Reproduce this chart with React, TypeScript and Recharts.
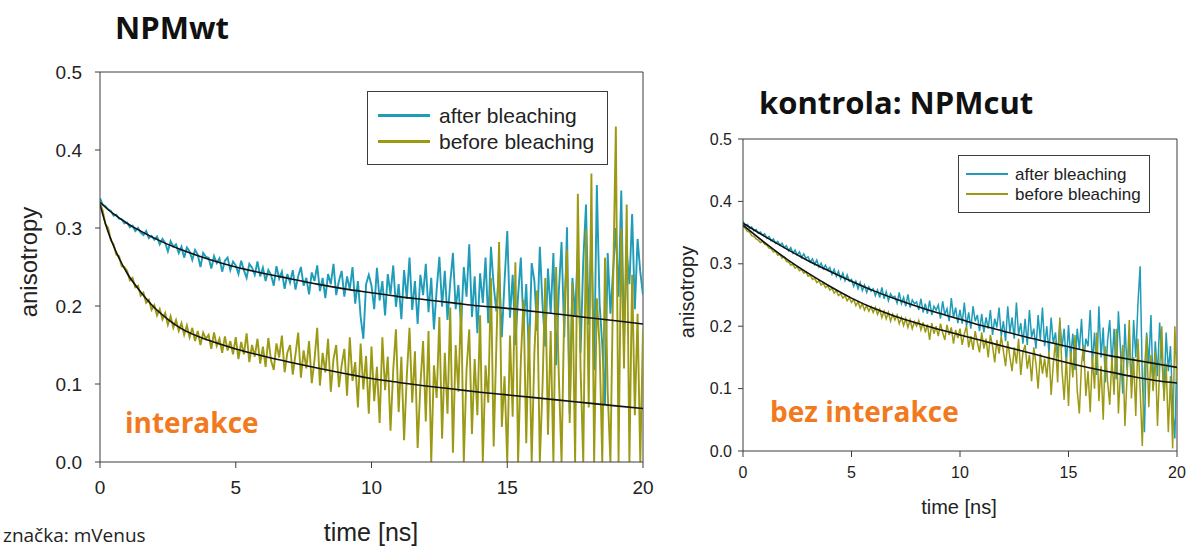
import React from "react";
import { LineChart, Line, XAxis, YAxis, ReferenceLine } from "recharts";

// time sampling of the measured traces (ns)
const STEP = 0.1;
const X_TICKS = [0, 5, 10, 15, 20];
const Y_TICKS = [0, 0.1, 0.2, 0.3, 0.4, 0.5];

// NPMwt – after bleaching (teal)
const L_AFTER = [
  0.338, 0.330, 0.328, 0.324, 0.322, 0.316, 0.317, 0.312, 0.311, 0.306,
  0.307, 0.301, 0.303, 0.296, 0.300, 0.294, 0.291, 0.296, 0.287, 0.290,
  0.285, 0.289, 0.279, 0.286, 0.281, 0.270, 0.283, 0.276, 0.279, 0.268,
  0.276, 0.262, 0.275, 0.270, 0.259, 0.272, 0.266, 0.250, 0.268, 0.263,
  0.262, 0.248, 0.264, 0.255, 0.261, 0.244, 0.258, 0.262, 0.246, 0.257,
  0.252, 0.241, 0.258, 0.246, 0.236, 0.254, 0.249, 0.240, 0.257, 0.238,
  0.249, 0.232, 0.246, 0.240, 0.226, 0.251, 0.235, 0.244, 0.222, 0.241,
  0.230, 0.246, 0.221, 0.238, 0.250, 0.226, 0.236, 0.215, 0.243, 0.232,
  0.252, 0.219, 0.236, 0.210, 0.241, 0.228, 0.254, 0.214, 0.232, 0.245,
  0.212, 0.238, 0.221, 0.250, 0.203, 0.232, 0.186, 0.158, 0.228, 0.240,
  0.226, 0.196, 0.249, 0.207, 0.232, 0.188, 0.241, 0.215, 0.252, 0.199,
  0.228, 0.183, 0.246, 0.209, 0.262, 0.195, 0.232, 0.177, 0.240, 0.214,
  0.254, 0.192, 0.236, 0.170, 0.221, 0.263, 0.199, 0.245, 0.182, 0.230,
  0.268, 0.196, 0.227, 0.174, 0.250, 0.212, 0.279, 0.186, 0.238, 0.165,
  0.242, 0.204, 0.262, 0.178, 0.276, 0.226, 0.193, 0.250, 0.160, 0.231,
  0.296, 0.185, 0.240, 0.150, 0.214, 0.262, 0.172, 0.228, 0.134, 0.255,
  0.232, 0.168, 0.276, 0.201, 0.148, 0.248, 0.190, 0.268, 0.124, 0.219,
  0.282, 0.160, 0.301, 0.062, 0.236, 0.188, 0.274, 0.140, 0.258, 0.330,
  0.176, 0.292, 0.118, 0.355, 0.204, 0.150, 0.074, 0.268, 0.190, 0.246,
  0.300, 0.212, 0.348, 0.156, 0.270, 0.228, 0.318, 0.196, 0.286, 0.244,
  0.214,
];

// NPMwt – before bleaching (olive)
const L_BEFORE = [
  0.332, 0.322, 0.305, 0.300, 0.284, 0.279, 0.266, 0.264, 0.251, 0.250,
  0.245, 0.233, 0.236, 0.224, 0.226, 0.213, 0.217, 0.204, 0.208, 0.195,
  0.201, 0.188, 0.196, 0.183, 0.191, 0.176, 0.187, 0.172, 0.182, 0.168,
  0.178, 0.163, 0.175, 0.160, 0.172, 0.155, 0.168, 0.150, 0.166, 0.158,
  0.163, 0.145, 0.166, 0.149, 0.158, 0.140, 0.161, 0.143, 0.155, 0.138,
  0.160, 0.132, 0.154, 0.138, 0.165, 0.128, 0.150, 0.135, 0.158, 0.126,
  0.148, 0.122, 0.159, 0.130, 0.118, 0.152, 0.134, 0.162, 0.115, 0.140,
  0.150, 0.112, 0.138, 0.166, 0.108, 0.143, 0.120, 0.155, 0.101, 0.131,
  0.172, 0.098, 0.140, 0.115, 0.158, 0.090, 0.132, 0.150, 0.096, 0.124,
  0.145, 0.085, 0.160, 0.104, 0.128, 0.070, 0.152, 0.093, 0.136, 0.062,
  0.148, 0.078, 0.122, 0.050, 0.160, 0.092, 0.135, 0.040, 0.118, 0.170,
  0.064, 0.135, 0.028, 0.110, 0.172, 0.076, 0.142, 0.018, 0.098, 0.155,
  0.052, 0.168, 0.000, 0.124, 0.082, 0.186, 0.030, 0.140, 0.062, 0.198,
  0.012, 0.150, 0.090, 0.205, 0.000, 0.118, 0.170, 0.036, 0.132, 0.060,
  0.188, 0.000, 0.124, 0.076, 0.236, 0.020, 0.150, 0.282, 0.045, 0.110,
  0.000, 0.162, 0.058, 0.256, 0.000, 0.130, 0.208, 0.024, 0.176, 0.000,
  0.140, 0.220, 0.000, 0.098, 0.236, 0.035, 0.168, 0.000, 0.250, 0.110,
  0.000, 0.196, 0.272, 0.050, 0.230, 0.000, 0.344, 0.120, 0.000, 0.298,
  0.070, 0.370, 0.000, 0.210, 0.150, 0.000, 0.262, 0.090, 0.000, 0.230,
  0.430, 0.000, 0.300, 0.120, 0.330, 0.000, 0.240, 0.060, 0.190, 0.000,
  0.170,
];

// NPMwt fits
const L_FIT_T = [0, 0.25, 0.5, 0.75, 1, 1.5, 2, 2.5, 3, 4, 5, 6, 7, 8, 9, 10, 11, 12, 13, 14, 15, 16, 17, 18, 19, 20];
const L_FIT_AFTER = [0.333, 0.325, 0.318, 0.312, 0.306, 0.296, 0.287, 0.279, 0.272, 0.26, 0.25, 0.242, 0.235, 0.228, 0.222, 0.217, 0.212, 0.208, 0.204, 0.2, 0.197, 0.193, 0.189, 0.185, 0.181, 0.177];
const L_FIT_BEFORE = [0.33, 0.3, 0.277, 0.258, 0.242, 0.218, 0.198, 0.183, 0.171, 0.156, 0.145, 0.136, 0.128, 0.1205, 0.1135, 0.107, 0.102, 0.0975, 0.0935, 0.0895, 0.086, 0.0825, 0.079, 0.0755, 0.072, 0.0685];

// kontrola NPMcut – after bleaching (teal)
const R_AFTER = [
  0.368, 0.362, 0.363, 0.357, 0.359, 0.353, 0.355, 0.349, 0.351, 0.346,
  0.348, 0.341, 0.344, 0.337, 0.340, 0.333, 0.336, 0.330, 0.333, 0.326,
  0.329, 0.321, 0.326, 0.317, 0.322, 0.314, 0.319, 0.310, 0.316, 0.309,
  0.311, 0.303, 0.308, 0.299, 0.306, 0.295, 0.301, 0.292, 0.298, 0.290,
  0.294, 0.283, 0.291, 0.280, 0.288, 0.276, 0.285, 0.273, 0.282, 0.272,
  0.275, 0.264, 0.272, 0.260, 0.270, 0.257, 0.266, 0.254, 0.263, 0.256,
  0.260, 0.249, 0.258, 0.246, 0.262, 0.244, 0.255, 0.241, 0.252, 0.246,
  0.248, 0.237, 0.254, 0.236, 0.246, 0.232, 0.251, 0.230, 0.242, 0.236,
  0.239, 0.226, 0.244, 0.222, 0.236, 0.220, 0.241, 0.218, 0.232, 0.226,
  0.234, 0.212, 0.240, 0.218, 0.228, 0.208, 0.245, 0.214, 0.230, 0.205,
  0.226, 0.204, 0.238, 0.200, 0.222, 0.196, 0.232, 0.208, 0.218, 0.192,
  0.220, 0.190, 0.214, 0.196, 0.226, 0.186, 0.212, 0.198, 0.230, 0.184,
  0.208, 0.176, 0.232, 0.190, 0.214, 0.180, 0.238, 0.186, 0.205, 0.172,
  0.212, 0.170, 0.226, 0.182, 0.196, 0.164, 0.218, 0.178, 0.230, 0.168,
  0.200, 0.158, 0.214, 0.172, 0.190, 0.150, 0.208, 0.166, 0.196, 0.140,
  0.202, 0.150, 0.188, 0.130, 0.196, 0.162, 0.212, 0.144, 0.180, 0.168,
  0.226, 0.140, 0.190, 0.122, 0.232, 0.150, 0.198, 0.110, 0.176, 0.210,
  0.138, 0.196, 0.115, 0.224, 0.160, 0.092, 0.204, 0.130, 0.182, 0.104,
  0.210, 0.150, 0.236, 0.296, 0.120, 0.030, 0.190, 0.140, 0.218, 0.098,
  0.176, 0.120, 0.206, 0.150, 0.090, 0.190, 0.128, 0.168, 0.070, 0.020,
  0.160,
];

// kontrola NPMcut – before bleaching (olive)
const R_BEFORE = [
  0.360, 0.357, 0.352, 0.351, 0.345, 0.344, 0.340, 0.338, 0.334, 0.336,
  0.331, 0.330, 0.325, 0.324, 0.319, 0.320, 0.314, 0.315, 0.309, 0.311,
  0.304, 0.303, 0.298, 0.299, 0.293, 0.295, 0.289, 0.291, 0.285, 0.287,
  0.280, 0.282, 0.275, 0.277, 0.270, 0.273, 0.266, 0.269, 0.262, 0.265,
  0.258, 0.261, 0.253, 0.257, 0.249, 0.252, 0.245, 0.249, 0.241, 0.246,
  0.238, 0.243, 0.233, 0.239, 0.229, 0.236, 0.226, 0.233, 0.224, 0.231,
  0.222, 0.230, 0.219, 0.227, 0.214, 0.224, 0.212, 0.222, 0.208, 0.219,
  0.210, 0.218, 0.204, 0.214, 0.201, 0.212, 0.198, 0.210, 0.196, 0.207,
  0.200, 0.209, 0.194, 0.206, 0.190, 0.203, 0.178, 0.205, 0.188, 0.200,
  0.184, 0.204, 0.190, 0.178, 0.202, 0.186, 0.198, 0.172, 0.194, 0.181,
  0.196, 0.170, 0.188, 0.200, 0.166, 0.184, 0.162, 0.192, 0.174, 0.158,
  0.190, 0.164, 0.180, 0.150, 0.186, 0.168, 0.142, 0.178, 0.156, 0.184,
  0.160, 0.136, 0.176, 0.150, 0.128, 0.166, 0.140, 0.180, 0.122, 0.158,
  0.170, 0.132, 0.154, 0.112, 0.166, 0.140, 0.100, 0.156, 0.124, 0.148,
  0.118, 0.160, 0.090, 0.140, 0.176, 0.110, 0.214, 0.130, 0.082, 0.150,
  0.072, 0.160, 0.118, 0.186, 0.098, 0.060, 0.140, 0.170, 0.088, 0.128,
  0.062, 0.152, 0.100, 0.190, 0.080, 0.136, 0.050, 0.168, 0.112, 0.074,
  0.150, 0.090, 0.196, 0.060, 0.130, 0.170, 0.040, 0.120, 0.210, 0.084,
  0.150, 0.056, 0.180, 0.100, 0.008, 0.130, 0.186, 0.070, 0.154, 0.096,
  0.160, 0.040, 0.132, 0.200, 0.080, 0.140, 0.030, 0.120, 0.004, 0.200,
  0.110,
];

// kontrola NPMcut fits
const R_FIT_T = [0, 1, 2, 3, 4, 5, 6, 7, 8, 9, 10, 11, 12, 13, 14, 15, 16, 17, 18, 19, 20];
const R_FIT_AFTER = [0.365, 0.344, 0.324, 0.305, 0.288, 0.272, 0.257, 0.244, 0.232, 0.221, 0.211, 0.201, 0.192, 0.183, 0.175, 0.167, 0.159, 0.152, 0.146, 0.14, 0.134];
const R_FIT_BEFORE = [0.362, 0.334, 0.308, 0.285, 0.264, 0.245, 0.229, 0.216, 0.205, 0.195, 0.186, 0.177, 0.168, 0.159, 0.15, 0.141, 0.133, 0.126, 0.119, 0.113, 0.109];

const TEAL = "#1f9cb8";
const OLIVE = "#9c9a14";
const ORANGE = "#f27a1e";
const AXIS = "#3c3c3c";
const ARIAL = "'Liberation Sans', Arial, sans-serif";
const OPEN = "'Open Sans', sans-serif";

const traceRows = (after: number[], before: number[]) =>
  after.map((v, i) => ({ t: Math.round(i * STEP * 10) / 10, after: v, before: before[i] }));

const fitRows = (ts: number[], vals: number[]) => ts.map((t, i) => ({ t, v: vals[i] }));

interface PanelProps {
  width: number;
  height: number;
  margin: { top: number; right: number; bottom: number; left: number };
  yWidth: number;
  fontSize: number;
  yTickMargin: number;
  xTickMargin: number;
  after: number[];
  before: number[];
  fitT: number[];
  fitAfter: number[];
  fitBefore: number[];
  traceWidth: number;
}

function Panel(p: PanelProps) {
  const tick = { fontSize: p.fontSize, fill: "#222", fontFamily: ARIAL };
  return (
    <LineChart width={p.width} height={p.height} margin={p.margin} data={traceRows(p.after, p.before)}>
      <XAxis
        dataKey="t"
        type="number"
        domain={[0, 20]}
        ticks={X_TICKS}
        allowDataOverflow
        height={30}
        tick={tick}
        tickSize={6}
        tickMargin={p.xTickMargin}
        stroke={AXIS}
      />
      <YAxis
        type="number"
        domain={[0, 0.5]}
        ticks={Y_TICKS}
        allowDataOverflow
        width={p.yWidth}
        tick={tick}
        tickSize={5}
        tickMargin={p.yTickMargin}
        tickFormatter={(v: number) => v.toFixed(1)}
        stroke={AXIS}
      />
      <ReferenceLine y={0.5} stroke={AXIS} />
      <ReferenceLine x={20} stroke={AXIS} />
      <Line dataKey="after" stroke={TEAL} strokeWidth={p.traceWidth} dot={false} isAnimationActive={false} />
      <Line dataKey="before" stroke={OLIVE} strokeWidth={p.traceWidth} dot={false} isAnimationActive={false} />
      <Line
        data={fitRows(p.fitT, p.fitAfter)}
        dataKey="v"
        type="monotone"
        stroke="#111"
        strokeWidth={1.6}
        dot={false}
        isAnimationActive={false}
      />
      <Line
        data={fitRows(p.fitT, p.fitBefore)}
        dataKey="v"
        type="monotone"
        stroke="#111"
        strokeWidth={1.6}
        dot={false}
        isAnimationActive={false}
      />
    </LineChart>
  );
}

function Txt(props: {
  x: number;
  y: number;
  size: number;
  children: React.ReactNode;
  family?: string;
  weight?: number;
  color?: string;
  center?: boolean;
  rotate?: boolean;
}) {
  const tr = props.rotate
    ? "translate(-50%,-50%) rotate(-90deg)"
    : props.center
    ? "translate(-50%,-50%)"
    : "translateY(-50%)";
  return (
    <div
      style={{
        position: "absolute",
        left: props.x,
        top: props.y,
        fontSize: props.size,
        lineHeight: 1,
        fontFamily: props.family || ARIAL,
        fontWeight: props.weight || 400,
        color: props.color || "#222",
        whiteSpace: "nowrap",
        transform: tr,
      }}
    >
      {props.children}
    </div>
  );
}

function LegendBox(props: {
  x: number;
  y: number;
  w: number;
  h: number;
  rows: number[];
  lineX: number;
  lineW: number;
  textX: number;
  size: number;
  thick: number;
}) {
  const labels = ["after bleaching", "before bleaching"];
  const colors = [TEAL, OLIVE];
  return (
    <>
      <div
        style={{
          position: "absolute",
          left: props.x,
          top: props.y,
          width: props.w,
          height: props.h,
          border: `1.5px solid ${AXIS}`,
          boxSizing: "border-box",
          background: "#fff",
        }}
      />
      {labels.map((l, i) => (
        <React.Fragment key={l}>
          <div
            style={{
              position: "absolute",
              left: props.lineX,
              top: props.rows[i] - props.thick / 2,
              width: props.lineW,
              height: props.thick,
              background: colors[i],
            }}
          />
          <Txt x={props.textX} y={props.rows[i]} size={props.size}>
            {l}
          </Txt>
        </React.Fragment>
      ))}
    </>
  );
}

export default function App() {
  return (
    <div
      style={{
        position: "absolute",
        left: 0,
        top: 0,
        width: 1193,
        height: 549,
        background: "#fff",
        overflow: "hidden",
      }}
    >
      <div style={{ position: "absolute", left: 0, top: 0 }}>
        <Panel
          width={660}
          height={549}
          margin={{ top: 72, right: 17, bottom: 57, left: 40 }}
          yWidth={60}
          fontSize={19}
          yTickMargin={13}
          xTickMargin={13}
          after={L_AFTER}
          before={L_BEFORE}
          fitT={L_FIT_T}
          fitAfter={L_FIT_AFTER}
          fitBefore={L_FIT_BEFORE}
          traceWidth={1.9}
        />
      </div>
      <div style={{ position: "absolute", left: 680, top: 0 }}>
        <Panel
          width={513}
          height={549}
          margin={{ top: 139, right: 16, bottom: 68, left: 13 }}
          yWidth={50}
          fontSize={16}
          yTickMargin={6}
          xTickMargin={10}
          after={R_AFTER}
          before={R_BEFORE}
          fitT={R_FIT_T}
          fitAfter={R_FIT_AFTER}
          fitBefore={R_FIT_BEFORE}
          traceWidth={1.5}
        />
      </div>

      <LegendBox x={367} y={91} w={241} h={74} rows={[115, 141]} lineX={378} lineW={52} textX={439} size={21} thick={3} />
      <LegendBox x={958} y={155} w={192} h={58} rows={[174, 194]} lineX={966} lineW={42} textX={1015} size={17} thick={2.5} />

      <Txt x={115} y={27} size={31} family={OPEN} weight={700} color="#111">
        NPMwt
      </Txt>
      <Txt x={759} y={102} size={31} family={OPEN} weight={700} color="#111">
        kontrola: NPMcut
      </Txt>
      <Txt x={125} y={422} size={28} family={OPEN} weight={700} color={ORANGE}>
        interakce
      </Txt>
      <Txt x={770} y={411} size={28} family={OPEN} weight={700} color={ORANGE}>
        bez interakce
      </Txt>
      <Txt x={3} y={535} size={19} family={OPEN} color="#222">
        značka: mVenus
      </Txt>

      <Txt x={29} y={262} size={24} rotate>
        anisotropy
      </Txt>
      <Txt x={371} y={532} size={25} center>
        time [ns]
      </Txt>
      <Txt x={687} y={292} size={20} rotate>
        anisotropy
      </Txt>
      <Txt x={959} y={507} size={20} center>
        time [ns]
      </Txt>
    </div>
  );
}
